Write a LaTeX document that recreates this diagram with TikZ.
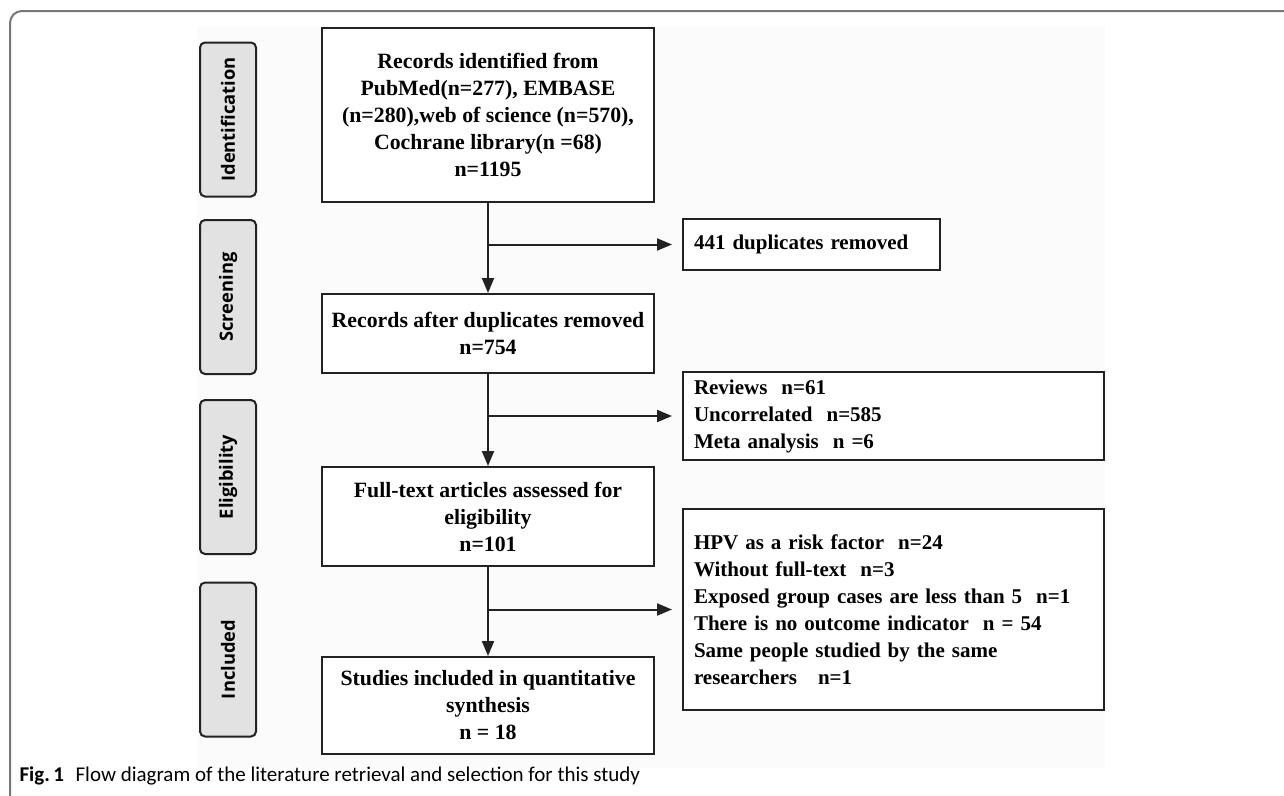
\documentclass[tikz,border=0pt]{standalone}
\usepackage{fontspec}
\setmainfont{Liberation Serif}
\newfontfamily\stagefont{Open Sans}
\newfontfamily\capfont{Carlito}
\usetikzlibrary{positioning}
\usetikzlibrary{arrows.meta}

\definecolor{linegray}{HTML}{222222}
\definecolor{stagegray}{HTML}{E2E2E2}
\definecolor{framegray}{HTML}{777777}

\tikzset{
  mainbox/.style={draw=linegray, line width=2pt, fill=white, minimum width=332pt,
    align=center, font=\bfseries\fontsize{21.8}{27}\selectfont},
  sidebox/.style={draw=linegray, line width=2pt, fill=white, inner xsep=11pt,
    align=left, font=\bfseries\fontsize{21}{27}\selectfont},
  stagebox/.style={draw=linegray, line width=2pt, fill=stagegray, rounded corners=5pt,
    rotate=90, minimum width=154pt, minimum height=56pt,
    font=\stagefont\bfseries\fontsize{18.3}{22}\selectfont},
  flowarrow/.style={draw=linegray, line width=2pt, -{Triangle[length=15pt,width=12pt]}},
}

\begin{document}
\begin{tikzpicture}[x=1pt, y=-1pt]
    \useasboundingbox (0,0) rectangle (1284,795);
    \draw[framegray, line width=2pt, rounded corners=12pt] (10,805) -- (10,11) -- (1295,11);
    \fill[black!1.5] (197,27) rectangle (1105,768);

    % stages
    \node[stagebox] (ident) at (228,119.5) {Identification};
    \node[stagebox] (screen) at (228,297) {Screening};
    \node[stagebox] (elig) at (228,477) {Eligibility};
    \node[stagebox] (incl) at (228,659.5) {Included};

    % main flow
    \node[mainbox, minimum height=174pt] (rec) at (488,115)
        {Records identified from\\PubMed(n=277), EMBASE\\(n=280),web of science (n=570),\\Cochrane library(n =68)\\n=1195};
    \node[mainbox, minimum height=79pt] (dup) at (488,333.5)
        {Records after duplicates removed\\n=754};
    \node[mainbox, minimum height=99pt] (full) at (488,516.5)
        {Full-text articles assessed for\\eligibility\\n=101};
    \node[mainbox, minimum height=97pt] (studies) at (488,705.5)
        {Studies included in quantitative\\synthesis\\n = 18};

    % excluded
    \node[sidebox, text width=235pt, minimum height=51pt] (rm) at (811.5,244.5)
        {441 duplicates removed};
    \node[sidebox, text width=399pt, minimum height=88pt] (excl) at (893.5,416)
        {Reviews\ \ n=61\\Uncorrelated\ \ n=585\\Meta analysis\ \ n =6};
    \node[sidebox, text width=399pt, minimum height=201pt] (exclft) at (893.5,609.5)
        {HPV as a risk factor\ \ n=24\\Without full-text\ \ n=3\\Exposed group cases are less than 5\ \ n=1\\There is no outcome indicator\ \ n = 54\\Same people studied by the same\\researchers\ \ \ n=1};

    \draw[flowarrow] (rec) -- (dup);
    \draw[flowarrow] (dup) -- (full);
    \draw[flowarrow] (full) -- (studies);
    \draw[flowarrow, shorten >=10pt] (rec.south |- rm.west) -- (rm.west);
    \draw[flowarrow, shorten >=10pt] (rec.south |- excl.west) -- (excl.west);
    \draw[flowarrow, shorten >=10pt] (rec.south |- exclft.west) -- (exclft.west);

    \node[anchor=west, font=\capfont\fontsize{21}{24}\selectfont] (caption) at (16,776)
        {\textbf{Fig.\,1}\hspace{0.55em}Flow diagram of the literature retrieval and selection for this study};
\end{tikzpicture}
\end{document}
